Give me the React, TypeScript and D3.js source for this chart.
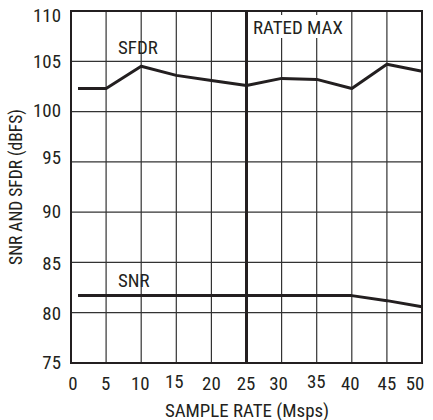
import React from "react";
import * as d3 from "d3";

const sampleRate = [1, 5, 10, 15, 20, 25, 30, 35, 40, 45, 50];
const sfdr = [102.3, 102.3, 104.5, 103.6, 103.1, 102.6, 103.3, 103.2, 102.3, 104.7, 104.0];
const snr = [81.7, 81.7, 81.7, 81.7, 81.7, 81.7, 81.7, 81.7, 81.7, 81.2, 80.6];
const xTicks = [0, 5, 10, 15, 20, 25, 30, 35, 40, 45, 50];
const yTicks = [75, 80, 85, 90, 95, 100, 105, 110];
const ratedMax = 25;

const W = 433;
const H = 420;
const M = { left: 71, right: 422, top: 11, bottom: 363 };
const FONT = "'Roboto Condensed', 'Liberation Sans Narrow', 'Arial Narrow', sans-serif";
const FS = 17.5;
const SX = 1.08;
const INK = "#231f20";

// small per-label nudges as in the reference typesetting
const yTickDy: Record<number, number> = { 110: 4.5, 100: -1.3, 95: -4.5, 85: 0.8, 80: 0.5 };
const xTickDx: Record<number, number> = { 0: 2, 5: -0.5, 10: -1, 15: -2, 20: 0, 25: -0.5, 30: -3, 35: -0.5, 40: -1.5, 45: 0, 50: -7 };
const xTickDy: Record<number, number> = { 15: -2, 35: -2 };

function T({ x, y, anchor = "start", children }: { x: number; y: number; anchor?: string; children: React.ReactNode }) {
  return (
    <text transform={`translate(${x},${y}) scale(${SX},1)`} fontSize={FS} textAnchor={anchor} fill={INK}>
      {children}
    </text>
  );
}

export default function App() {
  const x = d3.scaleLinear().domain([0, 50]).range([M.left, M.right]);
  const y = d3.scaleLinear().domain([75, 110]).range([M.bottom, M.top]);
  const line = d3
    .line<number>()
    .x((_, i) => x(sampleRate[i]))
    .y((d) => y(d));

  return (
    <svg
      width={W}
      height={H}
      style={{ position: "fixed", left: 0, top: 0, background: "#fff" }}
      fontFamily={FONT}
    >
      <rect x={0} y={0} width={W} height={H} fill="#fff" />
      {/* grid */}
      {xTicks.slice(1, -1).map((t) => (
        <line key={"gx" + t} x1={x(t)} x2={x(t)} y1={M.top} y2={M.bottom} stroke="#333" strokeWidth={1.2} />
      ))}
      {yTicks.slice(1, -1).map((t) => (
        <line key={"gy" + t} x1={M.left} x2={M.right} y1={y(t)} y2={y(t)} stroke="#333" strokeWidth={1.2} />
      ))}
      {/* rated max label box */}
      <rect x={249} y={15} width={98} height={23} fill="#fff" />
      <T x={253} y={33.5}>RATED MAX</T>
      {/* rated max line */}
      <line x1={x(ratedMax)} x2={x(ratedMax)} y1={M.top} y2={M.bottom} stroke={INK} strokeWidth={3} />
      {/* frame */}
      <rect x={M.left} y={M.top} width={M.right - M.left} height={M.bottom - M.top} fill="none" stroke={INK} strokeWidth={2} />
      {/* series */}
      <path d={line(sfdr) || ""} fill="none" stroke={INK} strokeWidth={3} strokeLinejoin="round" />
      <path d={line(snr) || ""} fill="none" stroke={INK} strokeWidth={3} strokeLinejoin="round" />
      <T x={118} y={54}>SFDR</T>
      <T x={118} y={287}>SNR</T>
      {/* y ticks */}
      {yTicks.map((t) => (
        <T key={"yt" + t} x={61} y={y(t) + 6.3 + (yTickDy[t] || 0)} anchor="end">
          {t}
        </T>
      ))}
      {/* x ticks */}
      {xTicks.map((t) => (
        <T key={"xt" + t} x={x(t) + (xTickDx[t] || 0)} y={390 + (xTickDy[t] || 0)} anchor="middle">
          {t}
        </T>
      ))}
      <T x={247} y={417} anchor="middle">
        SAMPLE RATE (Msps)
      </T>
      <text
        transform={`translate(22, 187) rotate(-90)`}
        fontSize={FS}
        textAnchor="middle"
        fill={INK}
      >
        SNR AND SFDR (dBFS)
      </text>
    </svg>
  );
}
